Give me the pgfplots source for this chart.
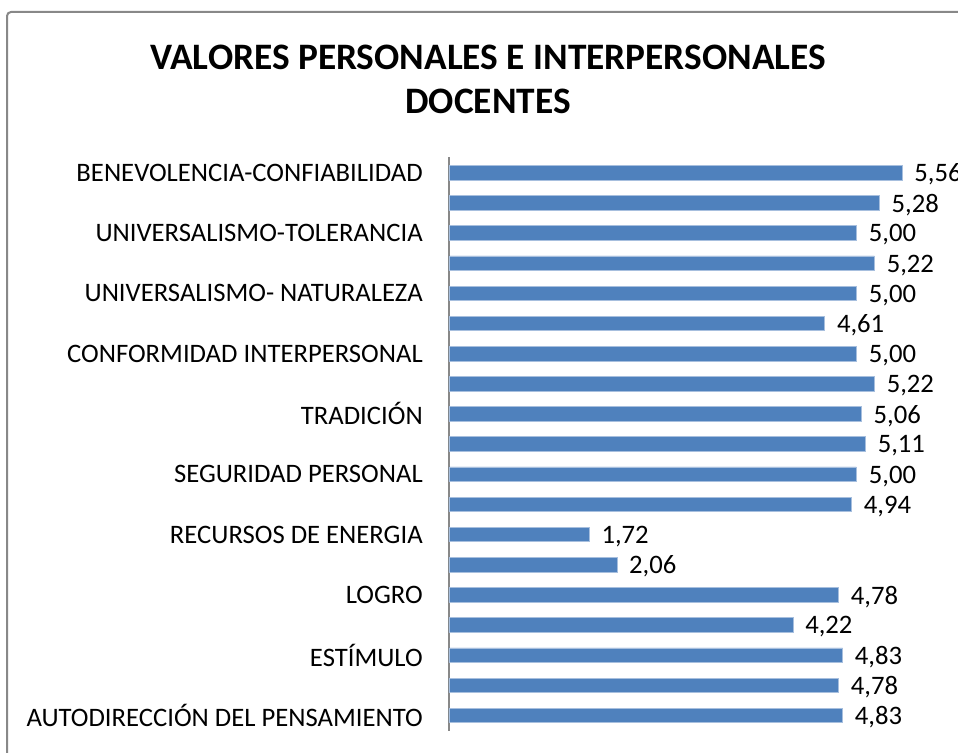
\documentclass[border=0pt]{standalone}
\usepackage{pgfplots}
\pgfplotsset{compat=1.18}
\usepackage{fontspec}
\setmainfont{Carlito}
\definecolor{barblue}{HTML}{4F81BD}
\definecolor{baredge}{HTML}{A7BFDE}
\definecolor{framegray}{HTML}{888888}
\begin{document}
\begin{tikzpicture}
\useasboundingbox (0,0) rectangle (718.5pt,564.75pt);
\clip (0,0) rectangle (718.5pt,564.75pt);
\draw[framegray, line width=1.5pt, rounded corners=3pt] (5.25pt,-20pt) rectangle (740pt,555.75pt);
\node[font=\fontsize{28}{32}\selectfont\bfseries] at (366pt,522pt) {VALORES PERSONALES E INTERPERSONALES};
\node[font=\fontsize{28}{32}\selectfont\bfseries] at (366pt,489pt) {DOCENTES};
\begin{axis}[
  at={(336.75pt,16.5pt)}, anchor=south west,
  scale only axis, width=366.75pt, height=430.5pt,
  xbar, bar width=10.9pt,
  xmin=0, xmax=6, ymin=-0.515, ymax=18.52,
  axis x line=none,
  axis y line*=left,
  y axis line style={framegray, line width=1pt, -},
  ytick={0,2,...,18},
  yticklabels={AUTODIRECCIÓN DEL PENSAMIENTO, ESTÍMULO, LOGRO, RECURSOS DE ENERGIA, SEGURIDAD PERSONAL, TRADICIÓN, CONFORMIDAD INTERPERSONAL, {UNIVERSALISMO- NATURALEZA\ }, UNIVERSALISMO-TOLERANCIA, BENEVOLENCIA-CONFIABILIDAD},
  major tick length=0pt,
  yticklabel style={font=\fontsize{20}{24}\selectfont, anchor=east, inner sep=0pt, xshift=-19.5pt},
  point meta=x,
  nodes near coords,
  nodes near coords style={font=\fontsize{20}{24}\selectfont, anchor=west, inner sep=0pt, xshift=9pt, yshift=-1.5pt, black,
    /pgf/number format/.cd, fixed, fixed zerofill, precision=2, use comma, assume math mode=true},
  clip=false,
]
\addplot[fill=barblue, draw=baredge, line width=0.5pt] table[x=v, y=k] {
k v
0 4.83
1 4.78
2 4.83
3 4.22
4 4.78
5 2.06
6 1.72
7 4.94
8 5.00
9 5.11
10 5.06
11 5.22
12 5.00
13 4.61
14 5.00
15 5.22
16 5.00
17 5.28
18 5.56
};
\end{axis}
\end{tikzpicture}
\end{document}
